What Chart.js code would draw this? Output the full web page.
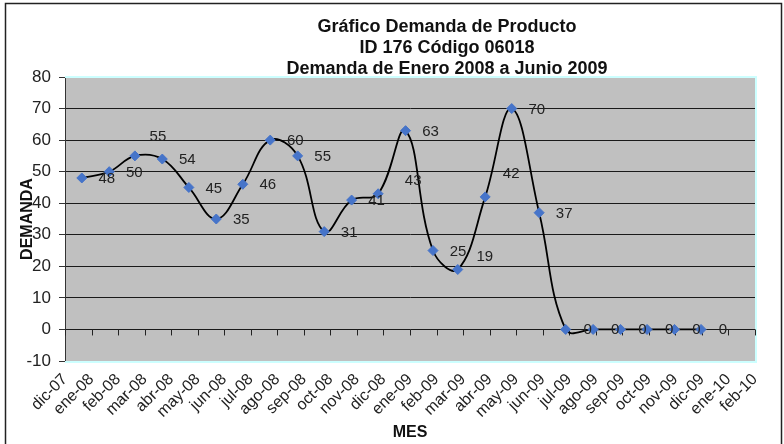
<!DOCTYPE html>
<html>
<head>
<meta charset="utf-8">
<script src="https://cdn.jsdelivr.net/npm/chart.js@4.4.1/dist/chart.umd.min.js"></script>
<style>
  html, body { margin: 0; padding: 0; background: #fff; }
  #wrap { width: 784px; height: 444px; position: relative; }
</style>
</head>
<body>
<div id="wrap"><canvas id="grafico"></canvas></div>
<script>
// datos
const categorias = ['ene-08', 'feb-08', 'mar-08', 'abr-08', 'may-08', 'jun-08', 'jul-08', 'ago-08',
  'sep-08', 'oct-08', 'nov-08', 'dic-08', 'ene-09', 'feb-09', 'mar-09', 'abr-09', 'may-09', 'jun-09',
  'jul-09', 'ago-09', 'sep-09', 'oct-09', 'nov-09', 'dic-09'];
const demanda = [48, 50, 55, 54, 45, 35, 46, 60, 55, 31, 41, 43, 63, 25, 19, 42, 70, 37, 0, 0, 0, 0, 0, 0];
const etiquetasEje = ['dic-07', 'ene-08', 'feb-08', 'mar-08', 'abr-08', 'may-08', 'jun-08', 'jul-08',
  'ago-08', 'sep-08', 'oct-08', 'nov-08', 'dic-08', 'ene-09', 'feb-09', 'mar-09', 'abr-09', 'may-09',
  'jun-09', 'jul-09', 'ago-09', 'sep-09', 'oct-09', 'nov-09', 'dic-09', 'ene-10', 'feb-10'];
const titulo = ['Gráfico Demanda de Producto', 'ID 176 Código 06018', 'Demanda de Enero 2008 a Junio 2009'];

// eje de fechas tipo Excel: marcas cada 30 dias
const meses = ['ene', 'feb', 'mar', 'abr', 'may', 'jun', 'jul', 'ago', 'sep', 'oct', 'nov', 'dic'];
const inicioEje = Date.UTC(2007, 11, 13);
const PASO = 30;
const DIA = 86400000;

function diasDesdeInicio(cat) {
  const [m, a] = cat.split('-');
  return (Date.UTC(2000 + Number(a), meses.indexOf(m), 1) - inicioEje) / DIA;
}

const puntos = categorias.map((c, i) => ({ x: diasDesdeInicio(c), y: demanda[i] }));

// desplazamiento de las etiquetas de datos (px)
const despEtiqueta = demanda.map(v => v === 0 ? [22, 0] : [25, 1]);
despEtiqueta[2] = [23, -19];
despEtiqueta[11] = [35, -13];
despEtiqueta[14] = [27, -13];
despEtiqueta[15] = [26, -23];

const FUENTE = "'Liberation Sans', Arial, sans-serif";

const fondoPlot = {
  id: 'fondoPlot',
  beforeDraw(chart) {
    const { ctx, chartArea: a } = chart;
    ctx.save();
    ctx.fillStyle = '#C0C0C0';
    ctx.fillRect(a.left, a.top, a.right - a.left, a.bottom - a.top);
    ctx.restore();
  },
  beforeDatasetsDraw(chart) {
    const { ctx, chartArea: a, scales } = chart;
    ctx.save();
    ctx.strokeStyle = '#CCFFFF';
    ctx.lineWidth = 2;
    ctx.beginPath();
    ctx.moveTo(a.left, a.top);
    ctx.lineTo(a.right + 1, a.top);
    ctx.lineTo(a.right + 1, a.bottom + 1);
    ctx.lineTo(a.left, a.bottom + 1);
    ctx.stroke();
    // marcas del eje X sobre la linea del cero
    const y0 = scales.y.getPixelForValue(0);
    ctx.strokeStyle = '#222';
    ctx.lineWidth = 1;
    ctx.beginPath();
    scales.x.ticks.forEach(t => {
      const x = Math.round(scales.x.getPixelForValue(t.value)) + 0.5;
      ctx.moveTo(x, y0);
      ctx.lineTo(x, y0 + 6);
    });
    ctx.stroke();
    ctx.restore();
  }
};

const etiquetasDatos = {
  id: 'etiquetasDatos',
  afterDatasetsDraw(chart) {
    const { ctx } = chart;
    const meta = chart.getDatasetMeta(0);
    ctx.save();
    ctx.font = '15px ' + FUENTE;
    ctx.fillStyle = '#222';
    ctx.textAlign = 'center';
    ctx.textBaseline = 'middle';
    meta.data.forEach((p, i) => {
      const [dx, dy] = despEtiqueta[i];
      ctx.fillText(String(demanda[i]), p.x + dx, p.y + dy);
    });
    ctx.restore();
  }
};

const marco = {
  id: 'marco',
  afterDraw(chart) {
    const { ctx } = chart;
    ctx.save();
    ctx.strokeStyle = '#222';
    ctx.lineWidth = 1.5;
    ctx.strokeRect(5.5, 3.5, 776, 446);
    ctx.fillStyle = '#111';
    ctx.font = 'bold 18px ' + FUENTE;
    ctx.textAlign = 'center';
    ctx.textBaseline = 'middle';
    titulo.forEach((t, i) => ctx.fillText(t, 447, 27 + i * 21));
    ctx.restore();
  }
};

new Chart(document.getElementById('grafico'), {
  type: 'line',
  data: {
    datasets: [{
      label: 'Demanda',
      data: puntos,
      borderColor: '#000',
      borderWidth: 1.8,
      tension: 0.4,
      pointStyle: 'rectRot',
      pointRadius: 5,
      pointBackgroundColor: '#4674C9',
      pointBorderColor: '#4674C9',
      pointBorderWidth: 1
    }]
  },
  options: {
    responsive: true,
    maintainAspectRatio: false,
    animation: false,
    layout: { padding: { left: 10, right: 29, top: 77, bottom: 2 } },
    plugins: {
      legend: { display: false },
      title: { display: false },
      tooltip: { enabled: false }
    },
    scales: {
      x: {
        type: 'linear',
        min: 0,
        max: PASO * (etiquetasEje.length - 1),
        afterFit: s => { s.height = 81; },
        grid: { display: false, drawTicks: false },
        border: { display: false },
        ticks: {
          stepSize: PASO,
          autoSkip: false,
          minRotation: 45,
          maxRotation: 45,
          padding: 9,
          color: '#222',
          font: { family: FUENTE, size: 16 },
          callback: v => etiquetasEje[Math.round(v / PASO)]
        },
        title: {
          display: true,
          text: 'MES',
          color: '#111',
          padding: 0,
          font: { family: FUENTE, size: 16, weight: 'bold' }
        }
      },
      y: {
        min: -10,
        max: 80,
        afterFit: s => { s.width = 55; },
        grid: {
          color: c => (c.tick.value >= 0 && c.tick.value <= 70) ? '#1a1a1a' : 'rgba(0,0,0,0)',
          tickColor: '#333',
          tickLength: 6,
          lineWidth: 1
        },
        border: { display: true, color: '#333', width: 1 },
        ticks: {
          stepSize: 10,
          padding: 8,
          color: '#222',
          font: { family: FUENTE, size: 17 }
        },
        title: {
          display: true,
          text: 'DEMANDA',
          color: '#111',
          padding: { top: 8, bottom: 0 },
          font: { family: FUENTE, size: 16, weight: 'bold' }
        }
      }
    }
  },
  plugins: [fondoPlot, etiquetasDatos, marco]
});
</script>
</body>
</html>
